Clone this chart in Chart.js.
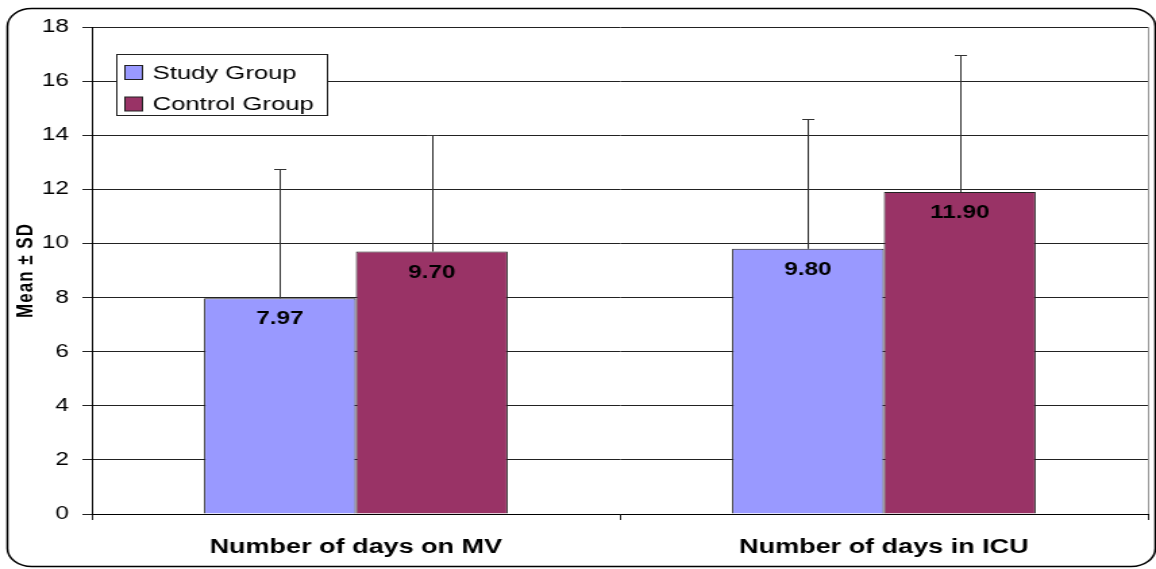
<!DOCTYPE html>
<html><head><meta charset="utf-8">
<script src="https://cdn.jsdelivr.net/npm/chart.js@4/dist/chart.umd.min.js"></script>
<style>
html,body{margin:0;padding:0;background:#fff;overflow:hidden;}
#wrap{width:856px;height:569px;transform:scaleX(1.35047);transform-origin:0 0;}
canvas{display:block;}
</style></head><body>
<div id="wrap"><canvas id="c" width="856" height="569"></canvas></div>
<script>
const categories = ["Number of days on MV", "Number of days in ICU"];
const seriesNames = ["Study Group", "Control Group"];
const studyMeans = [7.97, 9.80];
const studySD = [4.77, 4.79];
const controlMeans = [9.70, 11.90];
const controlSD = [4.32, 5.07];
const yTicks = [0, 2, 4, 6, 8, 10, 12, 14, 16, 18];
const yTitle = "Mean \u00B1 SD";

const FONT = "'Liberation Sans', Arial, sans-serif";
const colors = ['#9999FF', '#993366'];
const sds = [studySD, controlSD];

const extras = {
  id: 'extras',
  afterDatasetsDraw(chart) {
    const ctx = chart.ctx;
    const y = chart.scales.y;
    ctx.save();
    chart.data.datasets.forEach((ds, i) => {
      const meta = chart.getDatasetMeta(i);
      meta.data.forEach((bar, j) => {
        const v = ds.data[j];
        const top = y.getPixelForValue(v + sds[i][j]);
        const bx = Math.round(bar.x) + 0.5;
        ctx.strokeStyle = '#333';
        ctx.lineWidth = 1;
        ctx.beginPath();
        ctx.moveTo(bx, bar.y);
        ctx.lineTo(bx, Math.round(top) + 0.5);
        ctx.moveTo(bx - 4.5, Math.round(top) + 0.5);
        ctx.lineTo(bx + 4.5, Math.round(top) + 0.5);
        ctx.stroke();
        ctx.fillStyle = '#000';
        ctx.font = 'bold 18px ' + FONT;
        ctx.textAlign = 'center';
        ctx.textBaseline = 'middle';
        ctx.fillText(v.toFixed(2), bar.x, bar.y + 21);
      });
    });
    ctx.restore();
  },
  afterDraw(chart) {
    const ctx = chart.ctx;
    const a = chart.chartArea;
    ctx.save();
    ctx.strokeStyle = '#999';
    ctx.lineWidth = 1;
    ctx.beginPath();
    ctx.moveTo(Math.round(a.right) + 0.5, a.top);
    ctx.lineTo(Math.round(a.right) + 0.5, a.bottom);
    ctx.stroke();

    const lx = 86.5, ly = 54.5, lw = 156, lh = 61;
    ctx.fillStyle = '#fff';
    ctx.fillRect(lx, ly, lw, lh);
    ctx.strokeStyle = '#222';
    ctx.strokeRect(lx, ly, lw, lh);
    ctx.font = '19px ' + FONT;
    ctx.textAlign = 'left';
    ctx.textBaseline = 'middle';
    chart.data.datasets.forEach((ds, i) => {
      const cy = 72.5 + i * 31.5;
      ctx.fillStyle = ds.backgroundColor;
      ctx.fillRect(92.5, cy - 7, 13, 14);
      ctx.strokeStyle = '#222';
      ctx.strokeRect(92.5, cy - 7, 13, 14);
      ctx.fillStyle = '#000';
      ctx.fillText(ds.label, 113, cy + 1);
    });

    ctx.translate(19.5, (a.top + a.bottom) / 2);
    ctx.rotate(-Math.PI / 2);
    ctx.font = 'bold 17px ' + FONT;
    ctx.letterSpacing = '1px';
    ctx.textAlign = 'center';
    ctx.textBaseline = 'middle';
    ctx.fillStyle = '#000';
    ctx.fillText(yTitle, 0, 0);
    ctx.setTransform(1, 0, 0, 1, 0, 0);
    ctx.letterSpacing = '0px';

    ctx.strokeStyle = '#000';
    ctx.lineWidth = 1.5;
    ctx.beginPath();
    ctx.roundRect(5.5, 8.5, 850, 558, 18);
    ctx.stroke();
    ctx.restore();
  }
};

new Chart(document.getElementById('c'), {
  type: 'bar',
  data: {
    labels: categories,
    datasets: [
      { label: seriesNames[0], data: studyMeans, backgroundColor: colors[0], borderColor: '#222', borderWidth: 1 },
      { label: seriesNames[1], data: controlMeans, backgroundColor: colors[1], borderColor: '#222', borderWidth: 1 }
    ]
  },
  options: {
    responsive: false,
    animation: false,
    devicePixelRatio: 1,
    layout: { padding: { top: 27, right: 6, left: 0, bottom: 0 } },
    datasets: { bar: { categoryPercentage: 0.575, barPercentage: 1.0 } },
    plugins: { legend: { display: false }, tooltip: { enabled: false } },
    scales: {
      x: {
        grid: { offset: true, drawOnChartArea: false, drawTicks: true, tickLength: 6, color: '#222' },
        border: { display: true, color: '#000', width: 1 },
        ticks: { font: { family: FONT, size: 20, weight: 'bold' }, color: '#000', padding: 15, maxRotation: 0 },
        afterFit(s) { s.height = 55; }
      },
      y: {
        min: 0, max: 18,
        afterBuildTicks(s) { s.ticks = yTicks.map(v => ({ value: v })); },
        grid: { color: '#222', drawTicks: true, tickLength: 7 },
        border: { display: true, color: '#000', width: 1 },
        ticks: { font: { family: FONT, size: 18 }, color: '#000', padding: 10 },
        afterFit(s) { s.width = 68; }
      }
    }
  },
  plugins: [extras]
});
</script>
</body></html>
